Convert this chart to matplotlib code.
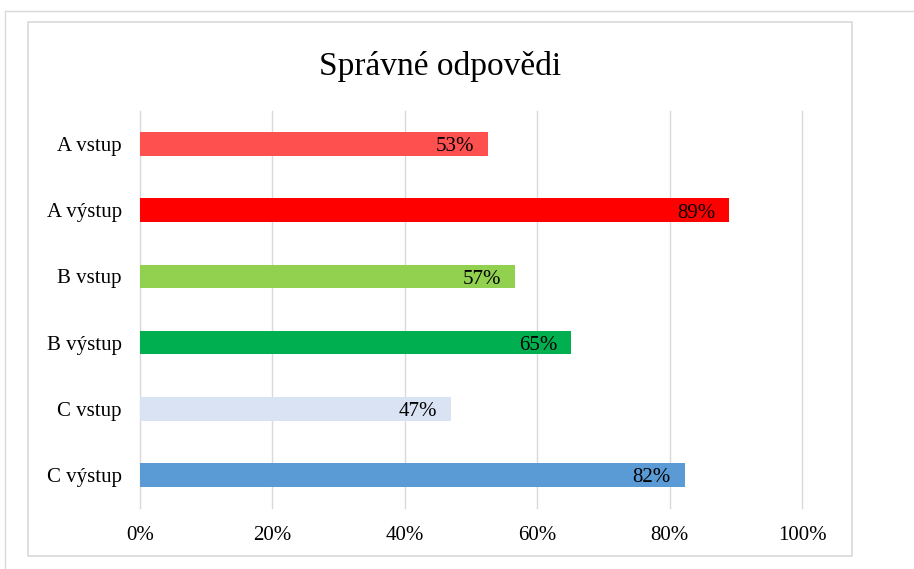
import matplotlib.pyplot as plt
from matplotlib.patches import Rectangle
from matplotlib.lines import Line2D
from matplotlib.ticker import PercentFormatter

categories = ['A vstup', 'A výstup', 'B vstup', 'B výstup', 'C vstup', 'C výstup']
values = [0.526, 0.89, 0.567, 0.651, 0.47, 0.823]
colors = ['#FF5050', '#FF0000', '#92D050', '#00B050', '#DAE3F3', '#5B9BD5']
x_ticks = [0, 0.2, 0.4, 0.6, 0.8, 1.0]

plt.rcParams['font.family'] = ['Liberation Serif', 'DejaVu Serif']

W, H = 914, 569
fig = plt.figure(figsize=(W / 100, H / 100), dpi=100)

# rámečky kolem grafu
fig.add_artist(Line2D([5 / W, 1], [1 - 11 / H, 1 - 11 / H], color='#D9D9D9', lw=1))
fig.add_artist(Line2D([5 / W, 5 / W], [0, 1 - 11 / H], color='#D9D9D9', lw=1))
fig.add_artist(Rectangle((28 / W, 1 - 556 / H), (852 - 28) / W, (556 - 22) / H,
                         fill=False, edgecolor='#D9D9D9', lw=1.2))

ax = fig.add_axes([140 / W, 1 - 508 / H, (802 - 140) / W, (508 - 111) / H])
y = list(range(len(categories)))
ax.barh(y, values, height=0.36, color=colors, zorder=2)
ax.set_ylim(len(categories) - 0.5, -0.5)
ax.set_xlim(0, 1)
ax.set_yticks(y, categories)
ax.set_xticks(x_ticks)
ax.xaxis.set_major_formatter(PercentFormatter(1.0, decimals=0))
ax.grid(axis='x', color='#D9D9D9', lw=1, zorder=0)
for gl in ax.get_xgridlines():
    gl.set_clip_on(False)
for s in ax.spines.values():
    s.set_visible(False)
ax.tick_params(axis='both', length=0, labelsize=15)
ax.tick_params(axis='x', pad=13)
ax.tick_params(axis='y', pad=13)

for yi, v in zip(y, values):
    ax.annotate(f'{v:.0%}', (v, yi), xytext=(-10, -2), textcoords='offset points',
                ha='right', va='center', fontsize=15, zorder=3)

fig.text(440 / W, 1 - 66 / H, 'Správné odpovědi', ha='center', va='center', fontsize=24)

plt.savefig('out.png', dpi=100)
